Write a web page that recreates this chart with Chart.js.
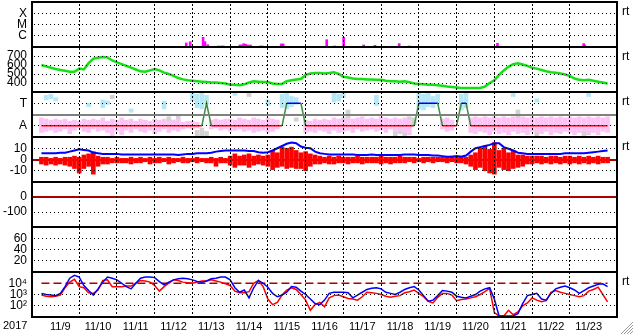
<!DOCTYPE html>
<html><head><meta charset="utf-8">
<script src="https://cdn.jsdelivr.net/npm/chart.js@4.4.0/dist/chart.umd.min.js"></script>
<style>html,body{margin:0;padding:0;background:#fff;}canvas{display:block;}</style>
</head><body>
<canvas id="c" width="633" height="334"></canvas>
<script>
const FONT = '"Liberation Sans", Arial, Helvetica, sans-serif';
const dayLabels = ['11/9','11/10','11/11','11/12','11/13','11/14','11/15','11/16','11/17','11/18','11/19','11/20','11/21','11/22','11/23'];
const yearLabel = '2017';
const stepHours = 3;

// X-ray flux (hour of period, log10 W/m2)
const xrayHours = [92.1,94.6,102.8,104.0,105.8,112.6,114.5,115.7,126.2,127.4,128.6,129.8,131.1,132.9,139.1,140.3,152.6,153.7,181.4,186.5,192.2,204.9,212.1,227.5,233.8,290.0,344.8,345.4];
const xrayExp   = [-6.64,-6.53,-6.14,-6.53,-6.8,-6.91,-6.91,-6.91,-6.82,-6.82,-6.71,-6.75,-6.82,-6.82,-6.91,-6.91,-6.73,-6.73,-6.35,-6.91,-6.14,-6.82,-6.85,-6.7,-6.91,-6.67,-6.7,-6.82];
const xrayTicks = [1e-6, 1e-5, 1e-4];
const xrayTickLabels = ['C', 'M', 'X'];

// Solar wind speed (km/s), every 3 h
const speed = [600,585,570,555,545,535,525,525,560,550,
620,670,680,690,685,650,630,610,590,570,
550,530,525,540,555,540,515,500,480,455,
440,430,425,420,415,410,405,405,400,395,
380,380,375,385,405,420,415,410,410,395,
390,390,420,430,440,445,490,505,510,510,
505,510,520,500,470,460,450,445,445,440,
440,435,435,425,420,420,415,420,410,395,
390,385,380,380,375,370,360,355,350,345,
345,345,345,345,360,400,430,490,540,580,
610,620,605,590,570,560,545,530,520,515,
505,495,480,450,435,430,435,425,415,405,395];
const speedTicks = [400, 500, 600, 700];

// Sector: predicted (T=1, A=-1) and observed ranges
const sectorPred = [-1,-1,-1,-1,-1,-1,-1,-1,-1,-1,
-1,-1,-1,-1,-1,-1,-1,-1,-1,-1,
-1,-1,-1,-1,-1,-1,-1,-1,-1,-1,
-1,-1,-1,-1,-1,1,-1,-1,-1,-1,
-1,-1,-1,-1,-1,-1,-1,-1,-1,-1,
-1,-1,1,1,1,1,-1,-1,-1,-1,
-1,-1,-1,-1,-1,-1,-1,-1,-1,-1,
-1,-1,-1,-1,-1,-1,-1,-1,-1,-1,
1,1,1,1,1,-1,-1,-1,-1,1,
1,-1,-1,-1,-1,-1,-1,-1,-1,-1,
-1,-1,-1,-1,-1,-1,-1,-1,-1,-1,
-1,-1,-1,-1,-1,-1,-1,-1,-1,-1,-1];
const sectorTicks = [-1, 0, 1];
const pinkLo = [-1.6,-1.5,-1.4,-1.6,-1.5,-1.3,-1.7,-1.4,-1.2,-1.5,
-1.6,-1.3,-1.5,-1.4,-1.6,-1.9,-1.5,-1.8,-1.4,-1.6,
-1.3,-1.5,-1.6,-1.4,-1.7,-1.5,-1.3,-1.6,-1.4,-1.5,
-1.3,-1.2,-1.3,-1.2,null,null,-1.3,-1.2,-1.4,-1.3,
-1.5,-1.4,-1.3,-1.5,-1.4,-1.6,-1.5,-1.4,-1.6,-1.5,
-1.3,null,null,null,null,null,-1.6,-1.5,-1.6,-1.4,
-1.5,-1.7,-1.4,-1.6,-1.5,-1.4,-1.6,-1.3,-1.5,-1.4,
-1.3,-1.5,-1.4,-1.6,-1.3,-1.5,-1.4,-1.6,-1.8,null,
null,null,null,null,null,-1.3,-1.5,-1.4,null,null,
null,-1.6,-1.7,-1.5,-1.6,-1.8,-1.5,-1.7,-1.6,-1.8,
-1.5,-1.7,-1.6,-1.8,-1.5,-1.6,-1.7,-1.5,-1.8,-1.6,
-1.7,-1.5,-1.6,-1.8,-1.6,-1.5,-1.7,-1.6,-1.8,-1.5,-1.6];
const pinkHi = [-0.3,-0.4,-0.5,-0.4,-0.5,-0.4,-0.6,-0.5,-0.6,-0.4,
-0.5,-0.4,-0.5,-0.3,-0.6,-0.4,-0.5,-0.3,-0.5,-0.4,
-0.6,-0.4,-0.5,-0.6,-0.4,-0.5,-0.4,-0.6,-0.5,-0.4,
-0.7,-0.6,-0.6,-0.7,null,null,-0.5,-0.4,-0.5,-0.4,
-0.4,-0.5,-0.3,-0.4,-0.5,-0.3,-0.4,-0.5,-0.3,-0.4,
-0.5,null,null,null,null,null,-0.5,-0.6,-0.4,-0.5,
-0.4,-0.5,-0.3,-0.4,-0.5,-0.3,-0.4,-0.3,-0.2,-0.4,
-0.3,-0.4,-0.2,-0.3,-0.4,-0.3,-0.4,-0.3,-0.5,null,
null,null,null,null,null,-0.4,-0.3,-0.5,null,null,
null,-0.3,-0.2,-0.3,-0.2,-0.3,-0.2,-0.3,-0.2,-0.3,
-0.2,-0.3,-0.2,-0.3,-0.2,-0.3,-0.2,-0.3,-0.2,-0.3,
-0.2,-0.3,-0.2,-0.3,-0.2,-0.3,-0.2,-0.3,-0.2,-0.3,-0.2];
const cyanIdx = [1,2,3,10,13,14,19,26,32,33,34,35,41,48,51,52,53,54,62,63,64,71,80,81,82,83,84,89,90,100,105,116];
const cyanLo  = [1.3,1.4,1.2,0.7,0.6,0.9,0.2,0.5,1.2,0.6,0.5,0.9,1.7,0.8,0.6,0.5,0.7,0.9,1.1,1.2,1.5,0.8,0.5,0.4,0.7,0.6,1.0,0.4,0.6,1.6,1.1,1.6];
const cyanHi  = [1.7,1.8,1.5,1.0,1.3,1.2,0.5,1.2,1.9,1.8,1.9,1.7,1.9,1.3,1.8,1.9,1.6,1.5,1.9,1.8,1.9,1.7,1.9,1.8,1.9,1.6,1.8,1.8,1.9,1.9,1.4,1.9];
const grayIdx = [15,27,28,29,33,34,35,44,54,64,65,75,76,77,78,79,85,101,105,115,116];
const grayLo  = [1.4,-0.8,-1.0,-0.6,-2.0,-2.0,-1.9,1.6,-0.6,-1.0,-0.4,-1.9,-1.7,-1.9,-1.0,-0.9,-0.9,-0.5,-1.9,-1.9,-1.8];
const grayHi  = [1.7,-0.2,-0.5,-0.1,-1.4,-1.2,-1.5,1.9,-0.3,-0.3,0.4,-0.8,-0.6,-1.1,-0.2,-0.3,-0.5,0.4,-1.0,-1.1,-1.0];

// IMF Bt and Bz (nT), every 3 h (Bz as high/low within each interval)
const bt = [5.5,5.5,5.5,5.5,6,6,7,8,9,8.5,
8,6,5.5,5,5,5,5,4.5,4.5,4.5,
4.5,4.5,4.5,4.5,4.5,4.5,4.5,4.5,4.5,4,
4.5,5,5,5.5,5.5,5.5,6,7,7.5,8,
8,8,8,8,7.5,7.5,6.5,6,6.5,8,
10,12,14,15,14.5,11.5,10.5,10,7,5.5,
5,4.5,4.5,4.5,4.5,4.5,4.5,4,4,4,
4.5,4,4,4,4,4,4,4.5,4.5,4.5,
4,4,4,3.5,3.5,3,2.5,2.5,3,2.5,
3.5,7,10,11,12,13,14.5,14.5,11,9.5,
8,6,5.5,5,5,5,5,5,5,5,
5,5.5,5.5,5.5,5.5,5.5,6,6.5,7,7.5,8];
const bzHi = [2,2,1,2,1,2,2,3,2,4,
5,7,3,2,2,1,2,1,1,2,
1,2,1,2,1,2,1,2,1,1,
2,1,1,2,1,1,2,1,2,1,
3,5,3,4,5,3,4,3,4,8,
6,11,10,11,8,6,7,5,4,3,
2,3,2,3,2,2,2,3,2,2,
2,2,3,2,2,2,3,2,2,2,
1,2,2,2,2,2,2,3,2,3,
2,4,6,10,12,9,15,8,10,6,
8,4,4,3,3,3,3,2,3,3,
2,3,3,2,3,2,3,2,3,2,2];
const bzLo = [-4,-5,-4,-5,-4,-5,-6,-8,-12,-8,
-6,-13,-6,-4,-4,-3,-3,-3,-3,-4,
-3,-3,-2,-4,-3,-3,-2,-4,-3,-2,
-3,-3,-2,-3,-2,-3,-3,-6,-3,-3,
-5,-7,-5,-5,-7,-5,-4,-5,-6,-9,
-7,-6,-8,-7,-8,-8,-10,-6,-4,-4,
-3,-4,-4,-3,-3,-4,-3,-3,-4,-3,
-3,-3,-4,-3,-4,-3,-3,-3,-2,-3,
-2,-3,-2,-3,-2,-2,-3,-2,-3,-3,
-4,-6,-9,-7,-10,-12,-13,-7,-9,-10,
-8,-7,-6,-4,-4,-3,-4,-3,-4,-3,
-4,-3,-4,-3,-4,-3,-4,-3,-4,-3,-3];
const bzTicks = [-10, 0, 10];

const dstTicks = [-100, 0];
const kpTicks = [20, 40, 60];

// Electron flux (log10), every 3 h
const fluxBlueExp = [3.1,3.0,2.95,2.9,3.1,3.7,4.45,4.7,4.55,3.8,
3.35,2.95,3.5,4.1,4.55,4.45,4.3,4.0,3.7,3.5,
4.0,4.45,4.55,4.55,4.5,4.15,3.85,4.1,4.3,4.4,
4.45,4.4,4.3,4.15,4.1,4.2,4.4,4.45,4.55,4.55,
4.3,3.6,3.2,3.4,2.7,3.6,4.25,4.0,3.65,3.1,
2.8,2.95,3.2,3.7,3.65,3.3,3.0,2.6,2.2,2.1,
2.5,3.1,3.2,3.2,3.2,3.15,2.7,2.95,3.2,3.45,
3.55,3.6,3.5,3.2,3.1,3.0,3.2,3.45,3.6,3.7,
3.4,2.9,2.4,2.5,2.9,3.35,3.3,3.2,2.85,2.75,
2.7,2.85,3.0,3.3,3.5,3.6,2.6,1.1,1.1,1.1,
1.1,1.3,2.2,2.9,3.0,3.1,2.6,2.5,3.1,3.5,
3.65,3.75,3.6,3.4,3.1,3.35,3.6,3.75,3.9,3.95,3.7];
const fluxRedExp = [2.95,2.85,2.8,2.85,2.95,3.6,4.1,4.35,3.7,3.6,
3.15,3.1,3.4,4.25,4.3,3.7,3.7,3.7,3.75,3.75,
4.0,4.25,4.2,4.1,3.8,3.3,3.7,4.0,4.3,4.25,
4.1,4.05,4.0,4.1,4.2,4.2,4.3,4.2,4.1,3.95,
3.8,3.3,3.15,3.15,3.25,4.0,4.25,3.7,2.6,2.1,
2.3,2.95,3.4,3.6,3.45,3.0,2.5,1.6,2.1,2.3,
1.9,2.7,2.9,2.95,2.8,2.65,2.6,2.5,2.8,3.2,
3.15,3.1,3.0,2.85,2.75,2.85,2.9,3.15,3.25,3.4,
3.1,2.8,2.4,2.25,2.75,3.1,3.1,2.95,2.45,2.55,
2.6,2.7,2.8,3.0,3.25,3.55,1.4,1.1,1.1,1.6,
1.2,1.45,2.0,2.25,2.7,2.5,2.35,2.45,3.2,3.35,
3.2,3.1,3.0,2.9,2.8,2.9,3.3,3.45,3.65,3.0,2.35];
const fluxTicks = [1e2, 1e3, 1e4];
const fluxTickLabels = ['10\u00B2', '10\u00B3', '10\u2074'];
const fluxAlert = 1e4;

const panelOrder = ['yXray','ySpeed','ySector','yBz','yDst','yKp','yFlux'];
const rtPanels = ['yXray','ySpeed','ySector','yBz','yFlux'];

const hours = speed.map((_, i) => i * stepHours);
const pts = (arr) => arr.map((v, i) => ({x: hours[i], y: v}));
const bzData = bzHi.map((v, i) => ({x: hours[i], y: [bzLo[i], v]}));
const pinkData = [];
pinkLo.forEach((lo, i) => { if (lo !== null) pinkData.push({x: hours[i], y: [lo, pinkHi[i]]}); });
const cyanData = cyanIdx.map((k, j) => ({x: hours[k], y: [cyanLo[j], cyanHi[j]]}));
const grayData = grayIdx.map((k, j) => ({x: hours[k], y: [grayLo[j], grayHi[j]]}));

const DARKRED = '#aa0000';
// special horizontal reference lines per panel (tick value -> style)
const refLineStyle = {
  yDst:    { value: 0, color: DARKRED, width: 2 },
  yBz:     { value: 0, color: DARKRED, width: 2, under: true },
  ySector: { value: 0, color: '#808080', width: 2 },
  yFlux:   { value: fluxAlert, skip: true }
};

function panelScale(tickVals, labelFn, extra) {
  return Object.assign({
    position: 'left', stack: 'panels', stackWeight: 1,
    afterBuildTicks: s => { s.ticks = tickVals.map(v => ({value: v})); },
    afterFit: s => { s.width = 32; s.paddingTop = 0; s.paddingBottom = 0; },
    grid: { display: false, drawTicks: false },
    border: { display: false },
    ticks: { color: '#000', padding: 5, autoSkip: false, font: { family: FONT, size: 12 }, callback: labelFn }
  }, extra);
}

// grid lines (positioned by the scales), panel frames and side texts
const panelGrid = {
  id: 'panelGrid',
  beforeDatasetsDraw(chart) {
    const {ctx, chartArea, scales} = chart;
    const ref = refLineStyle.yBz;
    const py = scales.yBz.getPixelForValue(ref.value);
    ctx.save();
    ctx.fillStyle = ref.color;
    ctx.fillRect(chartArea.left, Math.round(py - ref.width / 2), chartArea.right - chartArea.left, ref.width);
    ctx.restore();
  },
  afterDraw(chart) {
    const {ctx, chartArea, scales} = chart;
    const L = Math.ceil(chartArea.left), R = Math.floor(chartArea.right);
    const T = Math.ceil(chartArea.top), B = Math.floor(chartArea.bottom);
    ctx.save();
    // horizontal grid lines at each panel's ticks
    panelOrder.forEach(id => {
      const s = scales[id];
      const ref = refLineStyle[id];
      s.ticks.forEach(t => {
        const special = !!ref && Math.abs(t.value - ref.value) < 1e-12;
        const py = s.getPixelForValue(t.value);
        if (special) {
          if (ref.skip || ref.under) return;
          ctx.fillStyle = ref.color;
          ctx.fillRect(L, Math.round(py - ref.width / 2), R - L, ref.width);
        } else {
          ctx.fillStyle = '#000';
          const row = Math.round(py - 0.5);
          for (let x = L + 2; x < R - 1; x += 4) ctx.fillRect(x, row, 1, 1);
        }
      });
    });
    // vertical dotted day lines
    ctx.fillStyle = '#000';
    for (let h = 24; h < 360; h += 24) {
      const col = Math.floor(scales.x.getPixelForValue(h));
      for (let y = T + 2; y < B - 1; y += 4) ctx.fillRect(col, y, 1, 2);
    }
    // panel frames
    ctx.strokeStyle = '#000';
    ctx.lineWidth = 2;
    panelOrder.forEach(id => {
      const s = scales[id];
      ctx.strokeRect(chartArea.left, s.top, chartArea.right - chartArea.left, s.bottom - s.top);
    });
    ctx.fillStyle = '#000';
    ctx.textBaseline = 'middle';
    ctx.textAlign = 'left';
    ctx.font = '12px ' + FONT;
    rtPanels.forEach(id => ctx.fillText('rt', chartArea.right + 5, scales[id].top + 10));
    ctx.font = '11px ' + FONT;
    ctx.fillText(yearLabel, 3, scales.x.top + 9);
    ctx.strokeStyle = '#9a9a9a';
    ctx.lineWidth = 1;
    [3, 6, 9, 12].forEach(k => {
      ctx.beginPath();
      ctx.moveTo(chart.width - k, chart.height);
      ctx.lineTo(chart.width, chart.height - k);
      ctx.stroke();
    });
    ctx.restore();
  }
};

const segColor = (c) => {
  const a = c.p0.parsed.y, b = c.p1.parsed.y;
  if (a === -1 && b === -1) return '#ff0000';
  if (a === 1 && b === 1) return '#0000ff';
  return '#3f8f3f';
};

new Chart(document.getElementById('c'), {
  type: 'line',
  data: {
    datasets: [
      { type: 'bar', label: 'X-ray', yAxisID: 'yXray', data: xrayHours.map((h, i) => ({x: h, y: Math.pow(10, xrayExp[i])})),
        backgroundColor: '#ff00ff', barThickness: 2, grouped: false, order: 3 },
      { label: 'Speed', yAxisID: 'ySpeed', data: pts(speed), borderColor: '#14e014', borderWidth: 2.5, pointRadius: 0, tension: 0, order: 3 },
      { type: 'bar', label: 'Away obs', yAxisID: 'ySector', data: pinkData, backgroundColor: '#ffc2f4', barThickness: 4, grouped: false, order: 8 },
      { type: 'bar', label: 'Toward obs', yAxisID: 'ySector', data: cyanData, backgroundColor: '#b4e8f6', barThickness: 4, grouped: false, order: 7 },
      { type: 'bar', label: 'Unknown obs', yAxisID: 'ySector', data: grayData, backgroundColor: '#d2d2d2', barThickness: 4, grouped: false, order: 9 },
      { label: 'Sector', yAxisID: 'ySector', data: pts(sectorPred), borderWidth: 1.5, pointRadius: 0, tension: 0, order: 1,
        borderColor: '#ff0000', segment: { borderColor: segColor } },
      { type: 'bar', label: 'Bz', yAxisID: 'yBz', data: bzData, backgroundColor: '#ff0000', barThickness: 4, grouped: false, order: 2 },
      { label: 'Bt', yAxisID: 'yBz', data: pts(bt), borderColor: '#0000ff', borderWidth: 2, pointRadius: 0, tension: 0, order: 1 },
      { label: 'Alert', yAxisID: 'yFlux', data: [{x: hours[0], y: fluxAlert}, {x: hours[hours.length - 1], y: fluxAlert}],
        borderColor: DARKRED, borderWidth: 1.5, borderDash: [8, 4], pointRadius: 0, order: 4 },
      { label: 'Flux red', yAxisID: 'yFlux', data: pts(fluxRedExp.map(e => Math.pow(10, e))), borderColor: '#ff0000', borderWidth: 1.5, pointRadius: 0, tension: 0, order: 2 },
      { label: 'Flux blue', yAxisID: 'yFlux', data: pts(fluxBlueExp.map(e => Math.pow(10, e))), borderColor: '#0000ff', borderWidth: 1.5, pointRadius: 0, tension: 0, order: 1 }
    ]
  },
  options: {
    responsive: false,
    animation: false,
    devicePixelRatio: 1,
    events: [],
    layout: { padding: { top: 2, right: 16, left: 0, bottom: 0 } },
    plugins: { legend: { display: false }, tooltip: { enabled: false } },
    scales: {
      x: {
        type: 'linear', min: 0, max: 360,
        afterBuildTicks: s => { const t = []; for (let h = 0; h <= 360; h += 12) t.push({value: h}); s.ticks = t; },
        afterFit: s => { s.height = 17; s.paddingLeft = 0; s.paddingRight = 0; },
        grid: { display: false, drawTicks: false },
        border: { display: false },
        ticks: { color: '#000', padding: 3, autoSkip: false, maxRotation: 0, font: { family: FONT, size: 11 },
          callback: v => (v % 24 === 12) ? dayLabels[(v - 12) / 24] : '' }
      },
      yFlux: panelScale(fluxTicks, (v) => { const k = fluxTicks.indexOf(v); return k >= 0 ? fluxTickLabels[k] : ''; },
        { type: 'logarithmic', min: 10, max: 1e5 }),
      yKp: panelScale(kpTicks, v => String(v), { type: 'linear', min: 0, max: 80 }),
      yDst: panelScale(dstTicks, v => String(v), { type: 'linear', min: -200, max: 100 }),
      yBz: panelScale(bzTicks, v => String(v), { type: 'linear', min: -20, max: 20 }),
      ySector: panelScale(sectorTicks, v => v === 1 ? 'T' : (v === -1 ? 'A' : ''), { type: 'linear', min: -2, max: 2 }),
      ySpeed: panelScale(speedTicks, v => String(v), { type: 'linear', min: 300, max: 800 }),
      yXray: panelScale(xrayTicks, (v) => { const k = xrayTicks.findIndex(t => Math.abs(t - v) / t < 1e-6); return k >= 0 ? xrayTickLabels[k] : ''; },
        { type: 'logarithmic', min: 1e-7, max: 1e-3 })
    }
  },
  plugins: [panelGrid]
});
</script>
</body></html>
